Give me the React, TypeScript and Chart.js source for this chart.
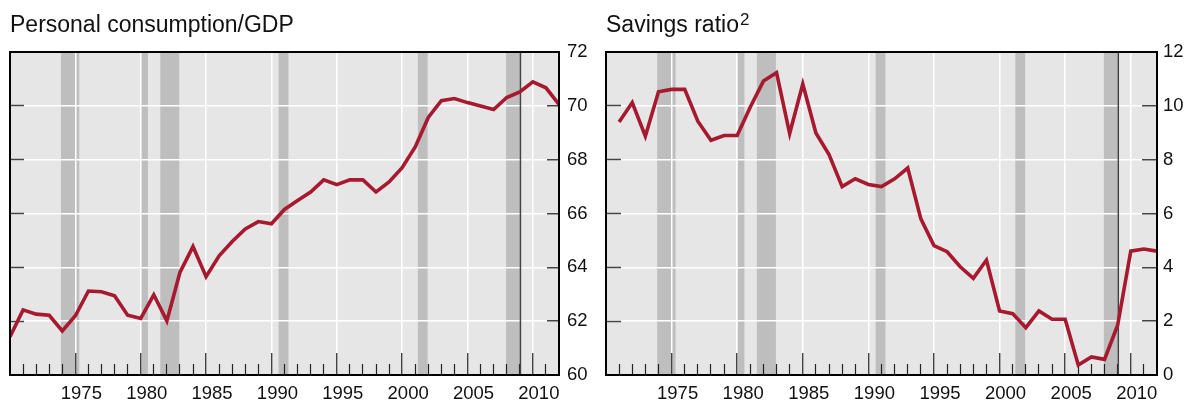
import React, { useEffect, useRef } from 'react';
import { Chart, registerables } from 'chart.js';

Chart.register(...registerables);

// ---------- data ----------
const years = [
  1970, 1971, 1972, 1973, 1974, 1975, 1976, 1977, 1978, 1979,
  1980, 1981, 1982, 1983, 1984, 1985, 1986, 1987, 1988, 1989,
  1990, 1991, 1992, 1993, 1994, 1995, 1996, 1997, 1998, 1999,
  2000, 2001, 2002, 2003, 2004, 2005, 2006, 2007, 2008, 2009,
  2010, 2011, 2012,
];

const consumptionGdp = [
  61.42, 62.42, 62.26, 62.22, 61.64, 62.2, 63.12, 63.09, 62.94, 62.22,
  62.1, 62.98, 62.01, 63.81, 64.77, 63.65, 64.43, 64.96, 65.43, 65.7,
  65.62, 66.15, 66.48, 66.8, 67.25, 67.07, 67.25, 67.25, 66.8, 67.17,
  67.7, 68.47, 69.57, 70.19, 70.27, 70.12, 69.99, 69.86, 70.31, 70.52,
  70.89, 70.67, 70.05,
];

const savingsRatio = [
  null, 9.4, 10.12, 8.87, 10.52, 10.61, 10.61, 9.43, 8.72, 8.9,
  8.9, 9.96, 10.92, 11.23, 8.97, 10.81, 8.99, 8.19, 7.0, 7.29,
  7.08, 7.0, 7.29, 7.69, 5.8, 4.81, 4.58, 4.02, 3.59, 4.27,
  2.38, 2.28, 1.76, 2.38, 2.07, 2.07, 0.37, 0.67, 0.58, 1.85,
  4.6, 4.68, 4.6,
];

const majorYears = [1975, 1980, 1985, 1990, 1995, 2000, 2005, 2010];
const consumptionTicks = [60, 62, 64, 66, 68, 70, 72];
const savingsTicks = [0, 2, 4, 6, 8, 10, 12];

const recessions: [number, number][] = [
  [1973.9, 1975.3],
  [1980.04, 1980.55],
  [1981.5, 1982.95],
  [1990.55, 1991.3],
  [2001.2, 2001.95],
  [2007.95, 2009.0],
];
const forecastStart = 2009.05;

const xMin = 1970;
const xMax = 2012;

// ---------- styling ----------
const FONT = '"Liberation Sans", Arial, Helvetica, sans-serif';
const LINE_RED = '#a6192e';

type PanelProps = {
  title: string;
  sup?: string;
  values: (number | null)[];
  yTicks: number[];
  width: number;
  rightAxisWidth: number;
  rightTickLen: number;
  leftTickLen: number;
  labelPad: number;
};

const zeroPad = (s: any) => {
  s.paddingTop = 0;
  s.paddingBottom = 0;
  s.paddingLeft = 0;
  s.paddingRight = 0;
};

function Panel(props: PanelProps) {
  const ref = useRef<HTMLCanvasElement | null>(null);

  useEffect(() => {
    const canvas = ref.current;
    if (!canvas) return;
    const yMin = props.yTicks[0];
    const yMax = props.yTicks[props.yTicks.length - 1];
    const minorYears = years.filter(
      (y) => y > xMin && y < xMax && !majorYears.includes(y)
    );

    const panelPlugin = {
      id: 'panelDecor',
      beforeDraw(chart: any) {
        const { ctx, chartArea: a, scales } = chart;
        const xs = scales.x;
        ctx.save();
        ctx.fillStyle = '#e6e6e6';
        ctx.fillRect(a.left, a.top, a.right - a.left, a.bottom - a.top);
        ctx.fillStyle = '#bebebe';
        for (const [s, e] of recessions) {
          const x1 = xs.getPixelForValue(s);
          const x2 = xs.getPixelForValue(e);
          ctx.fillRect(x1, a.top, x2 - x1, a.bottom - a.top);
        }
        ctx.fillStyle = '#111';
        ctx.textBaseline = 'alphabetic';
        ctx.textAlign = 'left';
        ctx.font = `23px ${FONT}`;
        ctx.fillText(props.title, 10, 32);
        if (props.sup) {
          const w = ctx.measureText(props.title).width;
          ctx.font = `17px ${FONT}`;
          ctx.fillText(props.sup, 10 + w + 1, 25);
        }
        ctx.restore();
      },
      beforeDatasetsDraw(chart: any) {
        const { ctx, chartArea: a, scales } = chart;
        const px = scales.x.getPixelForValue(forecastStart);
        ctx.save();
        ctx.strokeStyle = '#444';
        ctx.lineWidth = 1.5;
        ctx.beginPath();
        ctx.moveTo(px, a.top);
        ctx.lineTo(px, a.bottom);
        ctx.stroke();
        ctx.restore();
      },
      afterDraw(chart: any) {
        const { ctx, chartArea: a } = chart;
        ctx.save();
        ctx.strokeStyle = '#000';
        ctx.lineWidth = 2;
        ctx.strokeRect(a.left, a.top, a.right - a.left, a.bottom - a.top);
        ctx.restore();
      },
    };

    const edgeTransparent = (c: any) =>
      c.tick && (c.tick.value === yMin || c.tick.value === yMax)
        ? 'rgba(0,0,0,0)'
        : '#444';

    const chart = new Chart(canvas, {
      type: 'line',
      data: {
        datasets: [
          {
            data: years.map((y, i) => ({ x: y, y: props.values[i] })) as any,
            borderColor: LINE_RED,
            borderWidth: 3.6,
            pointRadius: 0,
            tension: 0,
            fill: false,
            spanGaps: false,
          },
        ],
      },
      options: {
        animation: false,
        responsive: false,
        devicePixelRatio: 1,
        layout: { padding: { left: 10, top: 52, right: 0, bottom: 0 } },
        plugins: {
          legend: { display: false },
          tooltip: { enabled: false },
          title: { display: false },
        },
        scales: {
          x: {
            type: 'linear',
            position: 'bottom',
            min: xMin,
            max: xMax,
            weight: 1,
            afterBuildTicks: (s: any) => {
              s.ticks = majorYears.map((v) => ({ value: v }));
            },
            afterFit: (s: any) => {
              s.height = 26;
              zeroPad(s);
            },
            grid: {
              color: '#ffffff',
              lineWidth: 1.5,
              drawTicks: true,
              tickLength: -22,
              tickColor: '#222',
              tickWidth: 1.2,
              drawOnChartArea: true,
            },
            border: { display: false },
            ticks: {
              autoSkip: false,
              maxRotation: 0,
              color: '#111',
              padding: 30,
              labelOffset: 6,
              font: { family: FONT, size: 18.5 },
              callback: (v: any) => String(v),
            },
          },
          xMinor: {
            type: 'linear',
            position: 'bottom',
            min: xMin,
            max: xMax,
            weight: 0,
            afterBuildTicks: (s: any) => {
              s.ticks = minorYears.map((v) => ({ value: v }));
            },
            afterFit: (s: any) => {
              s.height = 0;
              zeroPad(s);
            },
            grid: {
              drawOnChartArea: false,
              drawTicks: true,
              tickLength: -11,
              tickColor: '#222',
              tickWidth: 1.2,
            },
            border: { display: false },
            ticks: { display: false },
          },
          y: {
            type: 'linear',
            position: 'right',
            min: yMin,
            max: yMax,
            afterBuildTicks: (s: any) => {
              s.ticks = props.yTicks.map((v) => ({ value: v }));
            },
            afterFit: (s: any) => {
              s.width = props.rightAxisWidth;
              zeroPad(s);
            },
            grid: {
              color: '#ffffff',
              lineWidth: 1.5,
              drawTicks: true,
              tickLength: -props.rightTickLen,
              tickColor: edgeTransparent,
              tickWidth: 1.5,
            },
            border: { display: false },
            ticks: {
              color: '#111',
              padding: props.labelPad,
              font: { family: FONT, size: 18.5 },
              callback: (v: any) => String(v),
            },
          },
          yLeft: {
            type: 'linear',
            position: 'left',
            min: yMin,
            max: yMax,
            afterBuildTicks: (s: any) => {
              s.ticks = props.yTicks.map((v) => ({ value: v }));
            },
            afterFit: (s: any) => {
              s.width = 0;
              zeroPad(s);
            },
            grid: {
              drawOnChartArea: false,
              drawTicks: true,
              tickLength: -props.leftTickLen,
              tickColor: edgeTransparent,
              tickWidth: 1.5,
            },
            border: { display: false },
            ticks: { display: false },
          },
        },
      } as any,
      plugins: [panelPlugin],
    });

    return () => {
      chart.destroy();
    };
  }, []);

  return (
    <canvas
      ref={ref}
      width={props.width}
      height={401}
      style={{ display: 'block', width: props.width, height: 401 }}
    />
  );
}

export default function App() {
  return (
    <div
      style={{
        position: 'fixed',
        left: 0,
        top: 0,
        width: 1189,
        height: 401,
        background: '#ffffff',
        overflow: 'hidden',
      }}
    >
      <div style={{ position: 'absolute', left: 0, top: 0 }}>
        <Panel
          title="Personal consumption/GDP"
          values={consumptionGdp}
          yTicks={consumptionTicks}
          width={596}
          rightAxisWidth={37}
          rightTickLen={12}
          leftTickLen={14}
          labelPad={20}
        />
      </div>
      <div style={{ position: 'absolute', left: 596, top: 0 }}>
        <Panel
          title="Savings ratio"
          sup="2"
          values={savingsRatio}
          yTicks={savingsTicks}
          width={593}
          rightAxisWidth={32}
          rightTickLen={15}
          leftTickLen={15}
          labelPad={21}
        />
      </div>
    </div>
  );
}
